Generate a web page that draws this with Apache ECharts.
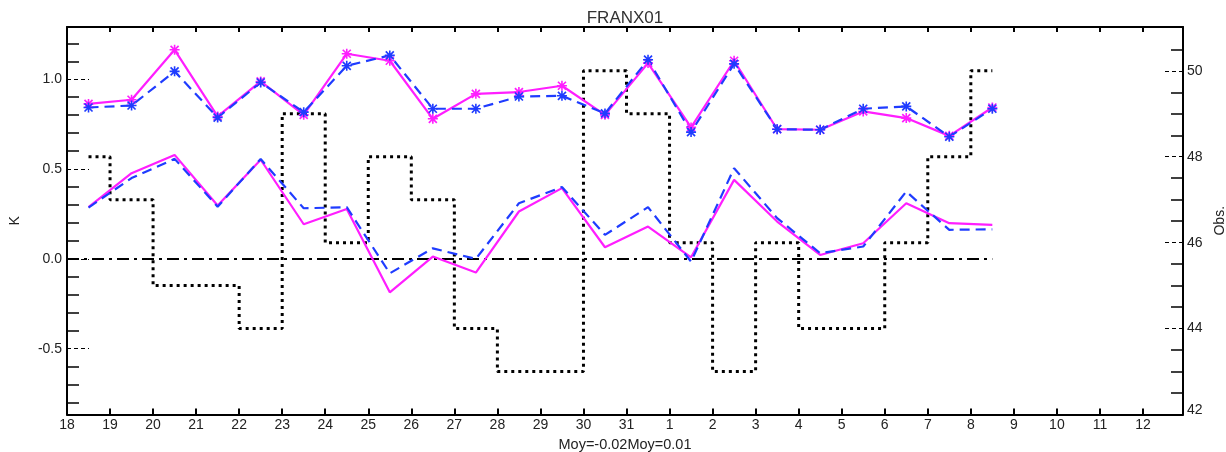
<!DOCTYPE html>
<html>
<head>
<meta charset="utf-8">
<script src="https://cdn.jsdelivr.net/npm/echarts@6/dist/echarts.min.js"></script>
<style>
  html, body { margin: 0; padding: 0; background: #fff; }
  #chart { width: 1226px; height: 452px; }
</style>
</head>
<body>
<div id="chart"></div>
<script>
// Day labels along the time axis (one slot per day)
const categories = ['18','19','20','21','22','23','24','25','26','27','28','29','30','31',
                    '1','2','3','4','5','6','7','8','9','10','11','12'];
// Days that carry a value (each point sits in the middle of its day)
const pointDays = ['18','19','20','21','22','23','24','25','26','27','28','29','30','31',
                   '1','2','3','4','5','6','7','8'];

// Upper pair of curves (with markers)
const upperMagenta = [0.863,0.886,1.164,0.793,0.988,0.802,1.142,1.103,0.780,0.919,0.929,
                      0.964,0.802,1.090,0.732,1.103,0.722,0.719,0.821,0.784,0.685,0.843];
const upperBlue    = [0.843,0.854,1.044,0.787,0.982,0.817,1.075,1.133,0.836,0.836,0.904,
                      0.908,0.810,1.109,0.706,1.086,0.722,0.719,0.836,0.849,0.680,0.836];
// Lower pair of curves
const lowerMagenta = [0.288,0.477,0.579,0.297,0.552,0.193,0.278,-0.186,0.013,-0.076,0.264,
                      0.394,0.065,0.180,0.009,0.440,0.208,0.022,0.087,0.310,0.199,0.190];
const lowerBlue    = [0.286,0.450,0.557,0.291,0.556,0.282,0.288,-0.080,0.059,0.000,0.310,
                      0.400,0.134,0.288,-0.015,0.505,0.227,0.032,0.069,0.375,0.162,0.165];
// Number of observations per day (right axis)
const obsCount     = [48,47,45,45,44,49,46,48,47,44,43,43,50,49,46,43,46,44,44,46,48,50];

// Tick values
const kLabelTicks  = [-0.5, 0.0, 0.5, 1.0];
const kMinorTicks  = [-0.8,-0.7,-0.6,-0.4,-0.3,-0.2,-0.1,0.1,0.2,0.3,0.4,0.6,0.7,0.8,0.9,1.1,1.2];
const obsLabelTicks = [42, 44, 46, 48, 50];
const obsMinorTicks = [42.5,43,43.5,44.5,45,45.5,46.5,47,47.5,48.5,49,49.5,50.5];

const xOf = d => categories.indexOf(d) + 0.5;
const pairs = vals => pointDays.map((d, i) => [xOf(d), vals[i]]);
const dayTicks = categories.map((c, i) => i);

const FONT = "'Liberation Sans', Arial, sans-serif";
const MAGENTA = '#ff1eff';
const BLUE = '#1f3cff';
// asterisk marker: horizontal, vertical and two diagonal bars
const STAR = 'path://M-5,-0.8L5,-0.8L5,0.8L-5,0.8Z' +
             'M0.8,-5L0.8,5L-0.8,5L-0.8,-5Z' +
             'M-3.4,-4.6L4.6,3.4L3.4,4.6L-4.6,-3.4Z' +
             'M-4.6,3.4L3.4,-4.6L4.6,-3.4L-3.4,4.6Z';

const X_MIN = 0, X_MAX = 25.93;
const K_MIN = -0.866, K_MAX = 1.291;
const OBS_MIN = 42, OBS_MAX = 51.02;

const axisLine = { show: true, onZero: false, lineStyle: { color: '#000', width: 2 } };
const labelStyle = { color: '#222', fontSize: 14, fontFamily: FONT };

const chart = echarts.init(document.getElementById('chart'), null, { renderer: 'canvas' });
chart.setOption({
  animation: false,
  backgroundColor: '#fff',
  grid: { left: 67, right: 43, top: 27, bottom: 37.5, containLabel: false, outerBoundsMode: 'none' },
  graphic: [{
    type: 'text', x: 625, y: 18,
    style: { text: 'FRANX01', textAlign: 'center', textVerticalAlign: 'middle',
             font: '17px ' + FONT, fill: '#333' }
  }],
  xAxis: [
    {
      type: 'value', position: 'bottom', min: X_MIN, max: X_MAX,
      axisLine: axisLine,
      axisTick: { show: true, inside: true, length: 6, customValues: dayTicks,
                  lineStyle: { color: '#000', width: 2 } },
      axisLabel: Object.assign({ customValues: dayTicks, margin: 4,
                  formatter: v => categories[Math.round(v)] }, labelStyle),
      splitLine: { show: false },
      name: 'Moy=-0.02Moy=0.01', nameLocation: 'middle', nameGap: 19,
      nameTextStyle: { color: '#222', fontSize: 14.5, fontFamily: FONT }
    },
    {
      type: 'value', position: 'top', min: X_MIN, max: X_MAX,
      axisLine: axisLine,
      axisTick: { show: true, inside: true, length: 5, customValues: dayTicks.slice(1),
                  lineStyle: { color: '#000', width: 2 } },
      axisLabel: { show: false },
      splitLine: { show: false }
    }
  ],
  yAxis: [
    {
      type: 'value', position: 'left', min: K_MIN, max: K_MAX,
      axisLine: axisLine,
      axisTick: { show: true, inside: true, length: 22, customValues: kLabelTicks,
                  lineStyle: { color: '#000', width: 1.2, type: [4, 3] } },
      axisLabel: Object.assign({ customValues: kLabelTicks, margin: 5,
                  formatter: v => v.toFixed(1) }, labelStyle),
      splitLine: { show: false },
      name: 'K', nameLocation: 'middle', nameGap: 45,
      nameTextStyle: { color: '#222', fontSize: 14, fontFamily: FONT }
    },
    {
      type: 'value', position: 'left', min: K_MIN, max: K_MAX,
      axisLine: { show: false, onZero: false },
      axisTick: { show: true, inside: true, length: 12, customValues: kMinorTicks,
                  lineStyle: { color: '#000', width: 1.5 } },
      axisLabel: { show: false },
      splitLine: { show: false }
    },
    {
      type: 'value', position: 'right', min: OBS_MIN, max: OBS_MAX,
      axisLine: axisLine,
      axisTick: { show: true, inside: true, length: 20, customValues: obsLabelTicks,
                  lineStyle: { color: '#000', width: 1.2, type: [4, 3] } },
      axisLabel: Object.assign({ customValues: obsLabelTicks, margin: 4,
                  formatter: v => (v === OBS_MIN ? '{low|' + v + '}' : String(v)),
                  rich: { low: { color: '#222', fontSize: 14, fontFamily: FONT,
                                 padding: [0, 0, 8, 0] } } }, labelStyle),
      splitLine: { show: false },
      name: 'Obs.', nameLocation: 'middle', nameGap: 20,
      nameTextStyle: { color: '#222', fontSize: 14, fontFamily: FONT }
    },
    {
      type: 'value', position: 'right', min: OBS_MIN, max: OBS_MAX,
      axisLine: { show: false, onZero: false },
      axisTick: { show: true, inside: true, length: 12, customValues: obsMinorTicks,
                  lineStyle: { color: '#000', width: 1.5 } },
      axisLabel: { show: false },
      splitLine: { show: false }
    }
  ],
  series: [
    {
      name: 'Obs.', type: 'line', xAxisIndex: 0, yAxisIndex: 2,
      step: 'middle', showSymbol: false, silent: true,
      data: pairs(obsCount),
      lineStyle: { color: '#000', width: 3, type: [3, 4] }
    },
    {
      name: 'zero', type: 'line', xAxisIndex: 0, yAxisIndex: 0,
      showSymbol: false, silent: true,
      data: [[X_MIN, 0], [xOf(pointDays[pointDays.length - 1]), 0]],
      lineStyle: { color: '#000', width: 2, type: [12, 5, 3, 5] }
    },
    {
      name: 'lowerMagenta', type: 'line', xAxisIndex: 0, yAxisIndex: 0,
      showSymbol: false, data: pairs(lowerMagenta),
      lineStyle: { color: MAGENTA, width: 2.2 }
    },
    {
      name: 'lowerBlue', type: 'line', xAxisIndex: 0, yAxisIndex: 0,
      showSymbol: false, data: pairs(lowerBlue),
      lineStyle: { color: BLUE, width: 2.2, type: [10, 6] }
    },
    {
      name: 'upperMagenta', type: 'line', xAxisIndex: 0, yAxisIndex: 0,
      symbol: STAR, symbolSize: 10, data: pairs(upperMagenta),
      itemStyle: { color: MAGENTA },
      lineStyle: { color: MAGENTA, width: 2.2 }
    },
    {
      name: 'upperBlue', type: 'line', xAxisIndex: 0, yAxisIndex: 0,
      symbol: STAR, symbolSize: 10, data: pairs(upperBlue),
      itemStyle: { color: BLUE },
      lineStyle: { color: BLUE, width: 2.2, type: [10, 6] }
    }
  ]
});
</script>
</body>
</html>
